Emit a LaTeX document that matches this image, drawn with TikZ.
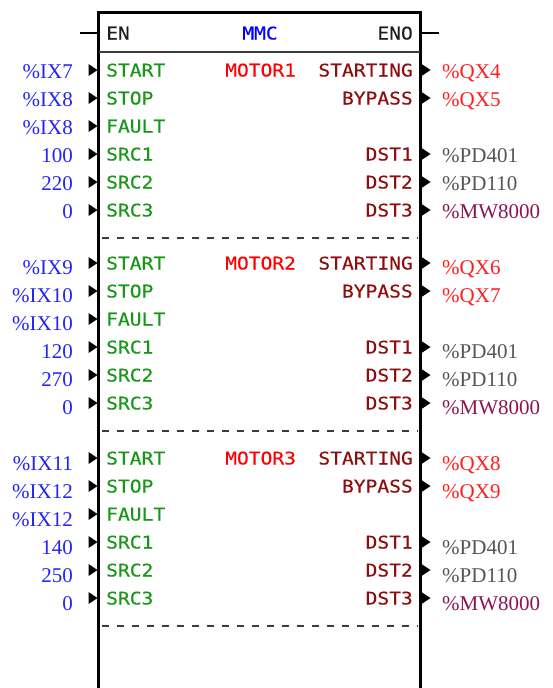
\documentclass[tikz,border=0pt]{standalone}
\usepackage{fontspec}
\newfontfamily\pixfont[FakeStretch=1.12,FakeBold=0.3]{DejaVu Sans Mono}
\newfontfamily\serfont{Liberation Serif}
\definecolor{inblue}{RGB}{36,36,245}
\definecolor{ingreen}{RGB}{24,150,24}
\definecolor{motred}{RGB}{255,0,0}
\definecolor{outdred}{RGB}{140,14,14}
\definecolor{qxred}{RGB}{255,30,30}
\definecolor{pdgrey}{RGB}{85,85,85}
\definecolor{mwpurple}{RGB}{140,20,85}
\definecolor{mmcblue}{RGB}{0,0,255}
\definecolor{entext}{RGB}{30,30,30}
\definecolor{dashgrey}{RGB}{60,60,60}
\tikzset{
  inl/.style={inner sep=0pt, font=\pixfont\fontsize{17.5}{18}\selectfont},
  outl/.style={inner sep=0pt, font=\serfont\fontsize{21}{22}\selectfont},
  boxline/.style={line width=3pt, line cap=rect},
  stub/.style={line width=2.5pt},
  sepline/.style={dashgrey, line width=1.5pt, dash pattern=on 7pt off 8pt},
  pinfill/.style={fill=black},
}
\newcommand\lpin[5]{%
  \node[inl, text=ingreen, anchor=base west] (li#1) at (106,#2+6.5) {#4};
  \fill[pinfill] (88.5,#2-6) -- (97.5,#2) -- (88.5,#2+6) -- cycle;
  \node[outl, text=inblue, anchor=base east] (lo#1) at (73,#2+#3+7) {#5};
}
\newcommand\rpin[6]{%
  \node[inl, text=outdred, anchor=base east] (ri#1) at (413,#2+6.5) {#4};
  \fill[pinfill] (421.5,#2-6) -- (430.5,#2) -- (421.5,#2+6) -- cycle;
  \node[outl, text=#6, anchor=base west] (ro#1) at (442,#2+#3+7) {#5};
}
\begin{document}
\begin{tikzpicture}[x=1pt,y=-1pt]
\useasboundingbox (0,0) rectangle (552,688);
% block outline
\draw[boxline] (98.5,690) -- (98.5,12) -- (420,12) -- (420,690);
\draw[line width=1.6pt, dashgrey] (98.5,52) -- (420,52);
% EN / ENO
\coordinate (enin) at (80,33);
\coordinate (enoout) at (439,33);
\node[inl, text=entext, anchor=base west] (en) at (106,39.5) {EN};
\node[inl, text=entext, anchor=base east] (eno) at (413,39.5) {ENO};
\node[inl, text=mmcblue, anchor=base] (mmc) at (260,39.5) {MMC};
\draw[stub] (enin) -- (97,33);
\draw[stub] (421.5,33) -- (enoout);
% block 1
\node[inl, text=motred, anchor=base west] (m1) at (225,76.5) {MOTOR1};
\lpin{a1}{70}{1}{START}{\%IX7}
\lpin{a2}{98}{1}{STOP}{\%IX8}
\lpin{a3}{126}{1}{FAULT}{\%IX8}
\lpin{a4}{154}{1}{SRC1}{100}
\lpin{a5}{182}{1}{SRC2}{220}
\lpin{a6}{210}{1}{SRC3}{0}
\rpin{a1}{70}{1}{STARTING}{\%QX4}{qxred}
\rpin{a2}{98}{1}{BYPASS}{\%QX5}{qxred}
\rpin{a4}{154}{1}{DST1}{\%PD401}{pdgrey}
\rpin{a5}{182}{1}{DST2}{\%PD110}{pdgrey}
\rpin{a6}{210}{1}{DST3}{\%MW8000}{mwpurple}
\draw[sepline] (102,238) -- (418,238);
% block 2
\node[inl, text=motred, anchor=base west] (m2) at (225,269.5) {MOTOR2};
\lpin{b1}{263}{4}{START}{\%IX9}
\lpin{b2}{291}{4}{STOP}{\%IX10}
\lpin{b3}{319}{4}{FAULT}{\%IX10}
\lpin{b4}{347}{4}{SRC1}{120}
\lpin{b5}{375}{4}{SRC2}{270}
\lpin{b6}{403}{4}{SRC3}{0}
\rpin{b1}{263}{4}{STARTING}{\%QX6}{qxred}
\rpin{b2}{291}{4}{BYPASS}{\%QX7}{qxred}
\rpin{b4}{347}{4}{DST1}{\%PD401}{pdgrey}
\rpin{b5}{375}{4}{DST2}{\%PD110}{pdgrey}
\rpin{b6}{403}{4}{DST3}{\%MW8000}{mwpurple}
\draw[sepline] (102,431) -- (418,431);
% block 3
\node[inl, text=motred, anchor=base west] (m3) at (225,464.5) {MOTOR3};
\lpin{c1}{458}{5}{START}{\%IX11}
\lpin{c2}{486}{5}{STOP}{\%IX12}
\lpin{c3}{514}{5}{FAULT}{\%IX12}
\lpin{c4}{542}{5}{SRC1}{140}
\lpin{c5}{570}{5}{SRC2}{250}
\lpin{c6}{598}{5}{SRC3}{0}
\rpin{c1}{458}{5}{STARTING}{\%QX8}{qxred}
\rpin{c2}{486}{5}{BYPASS}{\%QX9}{qxred}
\rpin{c4}{542}{5}{DST1}{\%PD401}{pdgrey}
\rpin{c5}{570}{5}{DST2}{\%PD110}{pdgrey}
\rpin{c6}{598}{5}{DST3}{\%MW8000}{mwpurple}
\draw[sepline] (102,626) -- (418,626);
\end{tikzpicture}
\end{document}
